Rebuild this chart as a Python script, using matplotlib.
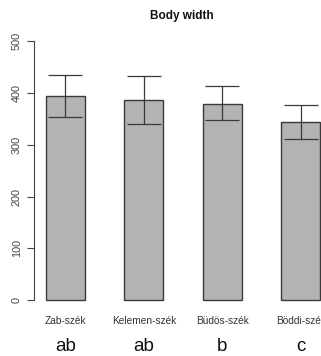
import matplotlib
matplotlib.use("Agg")
import matplotlib.pyplot as plt
import numpy as np

plt.rcParams['font.family'] = ['Liberation Sans', 'DejaVu Sans']

# values
sites = ['Zab-szék', 'Kelemen-szék', 'Büdös-szék', 'Böddi-szék']
means = [394, 386, 379, 344]
err_hi = [435, 432, 412, 376]
err_lo = [353, 339, 347, 311]
letters = ['ab', 'ab', 'b', 'c']
yticks = [0, 100, 200, 300, 400, 500]

W, H = 321, 356
fig = plt.figure(figsize=(W / 100, H / 100), dpi=100)
# axes placed in pixel terms
left, right, bottom, top = 34.3, 321, 310, 30
ax = fig.add_axes([left / W, 1 - bottom / H, (right - left) / W, (bottom - top) / H])

x = np.arange(len(sites))
means = np.array(means)
yerr = np.array([means - np.array(err_lo), np.array(err_hi) - means])

ax.bar(x, means, width=0.5, color='#b3b3b3', edgecolor='#3a3a3a', linewidth=1.0)
ax.errorbar(x, means, yerr=yerr, fmt='none', ecolor='#3a3a3a', elinewidth=0.9,
            capsize=12.5, capthick=0.9)

ax.set_xlim((34.3 - 65.4) / 78.4, (321 - 65.4) / 78.4)
ax.set_ylim((300.3 - 310) / 0.519, (300.3 - 30) / 0.519)

for s in ['top', 'right', 'bottom']:
    ax.spines[s].set_visible(False)
ax.spines['left'].set_bounds(0, 500)
ax.spines['left'].set_color('#444444')
ax.spines['left'].set_linewidth(0.8)
ax.set_yticks(yticks)
ax.set_yticklabels([str(v) for v in yticks], rotation=90, va='center',
                   fontsize=7.8, color='#444444')
ax.tick_params(axis='y', length=5, width=0.8, color='#444444', pad=4)
ax.set_xticks([])

# category names and letter labels under the bars
# (the last name runs off the right edge, as in the original)
for i, (s, l) in enumerate(zip(sites, letters)):
    ax.annotate(s, xy=(i, 0), xycoords='data', xytext=(0, -20.4 * 0.72),
                textcoords='offset points', ha='center', va='center',
                fontsize=7.3, color='#333333', annotation_clip=False)
    ax.annotate(l, xy=(i, 0), xycoords='data', xytext=(0, -46 * 0.72),
                textcoords='offset points', ha='center', va='center',
                fontsize=13.5, color='#111111', annotation_clip=False)

fig.text(182 / W, 1 - 16 / H, 'Body width', ha='center', va='center',
         fontsize=8.5, fontweight='bold', color='#111111')

fig.savefig('out.png', dpi=100)
